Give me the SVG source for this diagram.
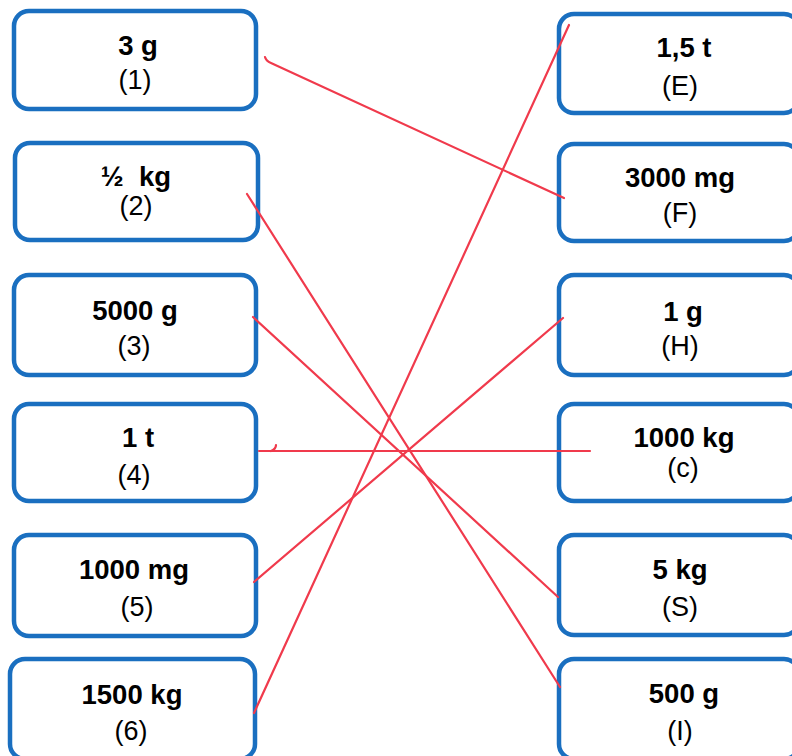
<svg xmlns="http://www.w3.org/2000/svg" width="792" height="756" viewBox="0 0 792 756">
<style>
.box{fill:#fff;stroke:#1a6fc0;stroke-width:4.5}
.t{font-family:"Liberation Sans",Arial,sans-serif;font-size:27px;fill:#000;text-anchor:middle}
.b{font-weight:bold;font-size:27.5px}
.ln{fill:none;stroke:#f03a4c;stroke-width:2.2;stroke-linecap:round;stroke-linejoin:round}
</style>
<rect width="792" height="756" fill="#fff"/>
<g id="n1"><rect class="box" x="14" y="11" width="242" height="98" rx="15"/><text class="t b" x="138" y="55">3 g</text><text class="t" x="135" y="89">(1)</text></g>
<g id="n2"><rect class="box" x="15" y="143" width="243" height="97" rx="15"/><text class="t b" x="136" y="186">½&#160; kg</text><text class="t" x="136" y="215">(2)</text></g>
<g id="n3"><rect class="box" x="14" y="275" width="242" height="100" rx="15"/><text class="t b" x="135" y="320">5000 g</text><text class="t" x="134" y="355">(3)</text></g>
<g id="n4"><rect class="box" x="14" y="404" width="242" height="97" rx="15"/><text class="t b" x="138" y="447">1 t</text><text class="t" x="134" y="484">(4)</text></g>
<g id="n5"><rect class="box" x="14" y="535" width="242" height="101" rx="15"/><text class="t b" x="134" y="579">1000 mg</text><text class="t" x="137" y="616">(5)</text></g>
<g id="n6"><rect class="box" x="10" y="659" width="245" height="100" rx="15"/><text class="t b" x="132" y="704">1500 kg</text><text class="t" x="131" y="740">(6)</text></g>
<g id="nE"><rect class="box" x="559" y="14" width="240" height="99" rx="15"/><text class="t b" x="684" y="57">1,5 t</text><text class="t" x="680" y="95">(E)</text></g>
<g id="nF"><rect class="box" x="559" y="144" width="240" height="97" rx="15"/><text class="t b" x="680" y="187">3000 mg</text><text class="t" x="680" y="222">(F)</text></g>
<g id="nH"><rect class="box" x="559" y="275" width="240" height="100" rx="15"/><text class="t b" x="683" y="321">1 g</text><text class="t" x="680" y="355">(H)</text></g>
<g id="nC"><rect class="box" x="559" y="404" width="240" height="97" rx="15"/><text class="t b" x="684" y="447">1000 kg</text><text class="t" x="683" y="477">(c)</text></g>
<g id="nS"><rect class="box" x="559" y="535" width="240" height="100" rx="15"/><text class="t b" x="680" y="579">5 kg</text><text class="t" x="680" y="616">(S)</text></g>
<g id="nI"><rect class="box" x="559" y="659" width="240" height="100" rx="15"/><text class="t b" x="684" y="703">500 g</text><text class="t" x="680" y="740">(I)</text></g>
<g id="connectors">
<path class="ln" d="M265,57 Q266,61 271,63 L564,198"/>
<path class="ln" d="M247,194 L560,687"/>
<path class="ln" d="M253,317 L558,597"/>
<path class="ln" d="M259,451 L590,451"/>
<path class="ln" d="M271,451 Q276,449 276,445"/>
<path class="ln" d="M254,582 L563,318"/>
<path class="ln" d="M254,713 L569,25"/>
</g>
</svg>
